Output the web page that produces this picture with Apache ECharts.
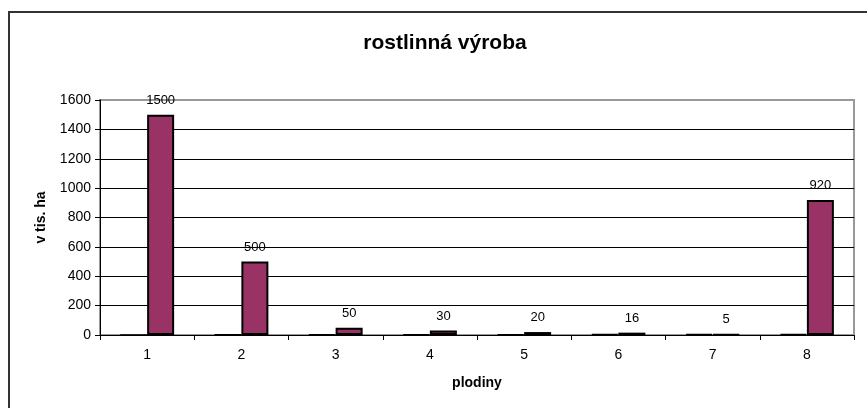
<!DOCTYPE html>
<html>
<head>
<meta charset="utf-8">
<script src="https://cdn.jsdelivr.net/npm/echarts@6/dist/echarts.min.js"></script>
<style>
  html, body { margin: 0; padding: 0; background: #fff; }
  #chart { width: 867px; height: 408px; }
</style>
</head>
<body>
<div id="chart"></div>
<script>
const categories = ["1", "2", "3", "4", "5", "6", "7", "8"];
const indexValues = [1, 2, 3, 4, 5, 6, 7, 8];
const areaValues = [1500, 500, 50, 30, 20, 16, 5, 920];
const yTicks = [0, 200, 400, 600, 800, 1000, 1200, 1400, 1600];

const chart = echarts.init(document.getElementById("chart"));
const font = "Liberation Sans, Arial, sans-serif";

chart.setOption({
    animation: false,
    title: {
        text: "rostlinná výroba",
        left: 440,
        textAlign: "center",
        top: 28,
        textStyle: { fontFamily: font, fontSize: 21, fontWeight: "bold", color: "#000" }
    },
    graphic: [{
        type: "rect",
        shape: { x: 9, y: 12, width: 900, height: 450 },
        style: { fill: "none", stroke: "#333", lineWidth: 2 },
        silent: true
    }],
    grid: {
        left: 100, right: 13, top: 100, bottom: 73,
        show: true,
        borderColor: "#999",
        borderWidth: 2,
        backgroundColor: "#fff"
    },
    xAxis: {
        type: "category",
        data: categories,
        name: "plodiny",
        nameLocation: "middle",
        nameGap: 41,
        nameTextStyle: { fontFamily: font, fontSize: 14, fontWeight: "bold", color: "#000" },
        axisLine: { lineStyle: { color: "#000", width: 1 } },
        axisTick: { show: true, length: 5, lineStyle: { color: "#000" } },
        axisLabel: { fontFamily: font, fontSize: 14, color: "#000", margin: 13 }
    },
    yAxis: {
        type: "value",
        min: yTicks[0],
        max: yTicks[yTicks.length - 1],
        interval: 200,
        name: "v tis. ha",
        nameLocation: "middle",
        nameGap: 52,
        nameTextStyle: { fontFamily: font, fontSize: 14, fontWeight: "bold", color: "#000" },
        axisLine: { show: true, lineStyle: { color: "#000", width: 1 } },
        axisTick: { show: true, length: 5, lineStyle: { color: "#000" } },
        axisLabel: { fontFamily: font, fontSize: 14, color: "#000", margin: 9, formatter: v => String(v) },
        splitLine: {
            show: true,
            lineStyle: { color: ["#000", "#000", "#000", "#000", "#000", "#000", "#000", "#000", "#999"], width: 1 }
        }
    },
    series: [{
        type: "bar",
        data: indexValues,
        barWidth: 27,
        barGap: "0%",
        itemStyle: { color: "#9999ff", borderColor: "#000", borderWidth: 1.5 }
    }, {
        type: "bar",
        data: areaValues,
        barWidth: 27,
        barGap: "0%",
        itemStyle: { color: "#993366", borderColor: "#000", borderWidth: 2 },
        label: {
            show: true,
            position: "top",
            distance: 8,
            fontFamily: font,
            fontSize: 13,
            color: "#000"
        }
    }]
});
</script>
</body>
</html>
